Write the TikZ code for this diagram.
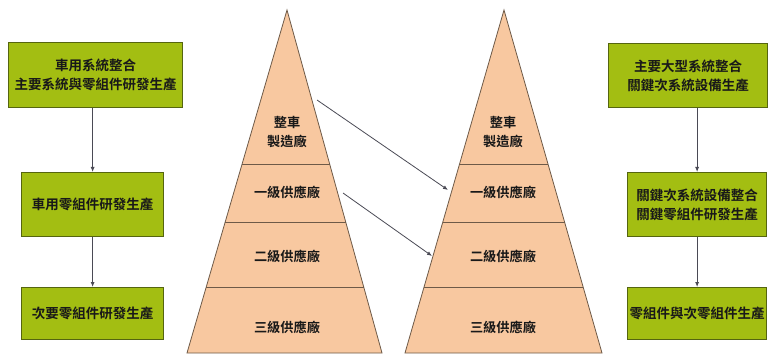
\documentclass[tikz,border=0pt]{standalone}
\usepackage{fontspec}
\newfontfamily\cjk{Noto Sans CJK TC}[BoldFont={* Bold}]
\usetikzlibrary{arrows.meta,calc}
\definecolor{boxgreen}{HTML}{A3BE12}
\definecolor{boxedge}{HTML}{55650F}
\definecolor{peach}{HTML}{F8C8A0}
\definecolor{pyredge}{HTML}{6E5A48}
\definecolor{arrowgray}{HTML}{4A4A55}
\tikzset{
  greenbox/.style={draw=boxedge, line width=1.2pt, fill=boxgreen, inner sep=0pt, anchor=north west},
  boxtext/.style={font=\cjk\bfseries\fontsize{13.5}{19}\selectfont, align=center, text=black!90},
  pyrtext/.style={font=\cjk\bfseries\fontsize{13.2}{19}\selectfont, align=center, text=black!90},
  pyr/.style={draw=pyredge, line width=0.8pt, fill=peach},
  divider/.style={draw=pyredge, line width=0.8pt},
  conn/.style={draw=arrowgray, line width=0.8pt, -{Latex[length=5pt,width=4pt]}}
}
\begin{document}
\begin{tikzpicture}[x=1pt,y=-1pt]
\useasboundingbox[fill=white] (0,0) rectangle (774,358);
% pyramids
\coordinate (LA) at (287,10);
\coordinate (LB) at (187,353);
\coordinate (LC) at (382,353);
\coordinate (RA) at (504,10);
\coordinate (RB) at (405,353);
\coordinate (RC) at (602,353);
\path[pyr] (LA) -- (LB) -- (LC) -- cycle;
\path[pyr] (RA) -- (RB) -- (RC) -- cycle;
\foreach \y in {164,222,287} {
  \path[divider] ($(LA)!{(\y-10)/343}!(LB)$) -- ($(LA)!{(\y-10)/343}!(LC)$);
  \path[divider] ($(RA)!{(\y-10)/343}!(RB)$) -- ($(RA)!{(\y-10)/343}!(RC)$);
}
% pyramid texts
\node[pyrtext] (l0) at (287,132) {整車\\製造廠};
\node[pyrtext] (l1) at (287,192) {一級供應廠};
\node[pyrtext] (l2) at (287,256) {二級供應廠};
\node[pyrtext] (l3) at (287,327) {三級供應廠};
\node[pyrtext] (r0) at (503,132) {整車\\製造廠};
\node[pyrtext] (r1) at (503,192) {一級供應廠};
\node[pyrtext] (r2) at (503,256) {二級供應廠};
\node[pyrtext] (r3) at (503,327) {三級供應廠};
% arrows between pyramids
\coordinate (a1s) at (317,100);
\coordinate (a1e) at (448,190);
\coordinate (a2s) at (343,193);
\coordinate (a2e) at (432,256);
\draw[conn] (a1s) -- (a1e);
\draw[conn] (a2s) -- (a2e);
% left boxes
\node[greenbox, minimum width=174pt, minimum height=65pt] (lb1) at (8,42) {};
\node[boxtext] at (lb1.center) {車用系統整合\\主要系統與零組件研發生產};
\node[greenbox, minimum width=142pt, minimum height=64pt] (lb2) at (21,172) {};
\node[boxtext] at (lb2.center) {車用零組件研發生產};
\node[greenbox, minimum width=142pt, minimum height=52pt] (lb3) at (21,287) {};
\node[boxtext] at (lb3.center) {次要零組件研發生產};
\draw[conn] (lb1.south -| lb2.north) -- (lb2.north);
\draw[conn] (lb2.south) -- (lb3.north);
% right boxes
\node[greenbox, minimum width=159pt, minimum height=64pt] (rb1) at (608,43) {};
\node[boxtext] at (rb1.center) {主要大型系統整合\\關鍵次系統設備生產};
\node[greenbox, minimum width=139pt, minimum height=64pt] (rb2) at (627,172) {};
\node[boxtext] at (rb2.center) {關鍵次系統設備整合\\關鍵零組件研發生產};
\node[greenbox, minimum width=139pt, minimum height=52pt] (rb3) at (627,287) {};
\node[boxtext] at (rb3.center) {零組件與次零組件生產};
\draw[conn] (rb1.south -| rb2.north) -- (rb2.north);
\draw[conn] (rb2.south) -- (rb3.north);
\end{tikzpicture}
\end{document}
